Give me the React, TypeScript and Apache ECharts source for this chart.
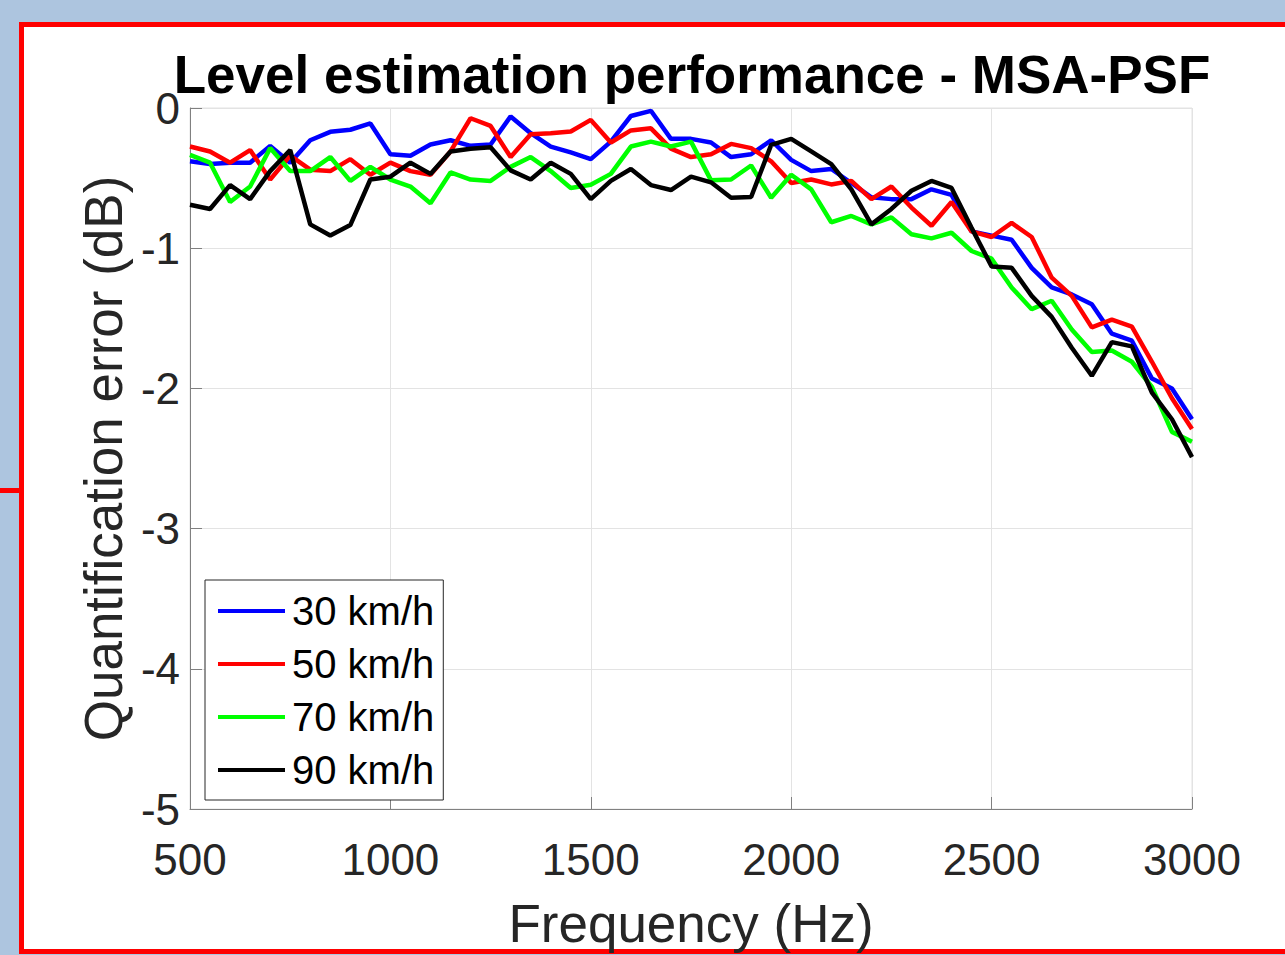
import React, { useEffect, useRef } from "react";
import * as echarts from "echarts";

const frequencies = [
  500, 550, 600, 650, 700, 750, 800, 850, 900, 950, 1000, 1050, 1100, 1150, 1200, 1250, 1300, 1350, 1400, 1450,
  1500, 1550, 1600, 1650, 1700, 1750, 1800, 1850, 1900, 1950, 2000, 2050, 2100, 2150, 2200, 2250, 2300, 2350,
  2400, 2450, 2500, 2550, 2600, 2650, 2700, 2750, 2800, 2850, 2900, 2950, 3000,
];

const speed30 = [
  -0.38, -0.4, -0.39, -0.39, -0.27, -0.39, -0.23, -0.17, -0.155, -0.11, -0.33, -0.34, -0.26, -0.23, -0.27, -0.26,
  -0.06, -0.18, -0.275, -0.317, -0.365, -0.24, -0.057, -0.02, -0.22, -0.22, -0.246, -0.35, -0.33, -0.23, -0.37,
  -0.45, -0.435, -0.535, -0.637, -0.65, -0.65, -0.58, -0.62, -0.88, -0.91, -0.94, -1.14, -1.28, -1.33, -1.4, -1.61,
  -1.66, -1.93, -2.0, -2.22,
];

const speed50 = [
  -0.275, -0.31, -0.39, -0.3, -0.51, -0.34, -0.44, -0.45, -0.365, -0.476, -0.39, -0.45, -0.476, -0.31, -0.073,
  -0.128, -0.35, -0.187, -0.18, -0.168, -0.085, -0.246, -0.16, -0.145, -0.29, -0.35, -0.33, -0.256, -0.286, -0.38,
  -0.535, -0.51, -0.545, -0.52, -0.65, -0.56, -0.71, -0.84, -0.67, -0.88, -0.92, -0.82, -0.92, -1.21, -1.34,
  -1.565, -1.51, -1.56, -1.81, -2.07, -2.29,
];

const speed70 = [
  -0.334, -0.39, -0.67, -0.56, -0.286, -0.45, -0.45, -0.35, -0.52, -0.42, -0.51, -0.56, -0.68, -0.46, -0.51, -0.52,
  -0.42, -0.35, -0.45, -0.57, -0.547, -0.47, -0.275, -0.24, -0.275, -0.24, -0.516, -0.51, -0.41, -0.64, -0.476,
  -0.58, -0.815, -0.77, -0.83, -0.78, -0.9, -0.93, -0.89, -1.02, -1.075, -1.28, -1.435, -1.375, -1.58, -1.74, -1.73,
  -1.81, -1.99, -2.31, -2.38,
];

const speed90 = [
  -0.69, -0.72, -0.55, -0.65, -0.45, -0.3, -0.83, -0.91, -0.835, -0.51, -0.49, -0.39, -0.47, -0.31, -0.29, -0.28,
  -0.445, -0.51, -0.39, -0.47, -0.65, -0.52, -0.435, -0.55, -0.585, -0.49, -0.53, -0.64, -0.635, -0.263, -0.22,
  -0.31, -0.4, -0.58, -0.83, -0.72, -0.59, -0.52, -0.57, -0.855, -1.13, -1.14, -1.34, -1.49, -1.71, -1.91, -1.67,
  -1.7, -2.03, -2.22, -2.49,
];

const seriesNames = ["30 km/h", "50 km/h", "70 km/h", "90 km/h"];
const seriesColors = ["#0000ff", "#ff0000", "#00ff00", "#000000"];
const seriesValues = [speed30, speed50, speed70, speed90];

const titleText = "Level estimation performance - MSA-PSF";
const xAxisName = "Frequency (Hz)";
const yAxisName = "Quantification error (dB)";

const FONT = '"Liberation Sans", Arial, Helvetica, sans-serif';

export default function App() {
  const ref = useRef<HTMLDivElement>(null);

  useEffect(() => {
    if (!ref.current) return;
    const chart = echarts.init(ref.current, undefined, { renderer: "svg" });

    const series = seriesNames.map((name, i) => ({
      name,
      type: "line",
      data: frequencies.map((f, j) => [f, seriesValues[i][j]]),
      symbol: "none",
      showSymbol: false,
      lineStyle: { width: 4.5, color: seriesColors[i] },
      itemStyle: { color: seriesColors[i] },
      z: 3 + i,
    }));

    chart.setOption({
      animation: false,
      backgroundColor: "transparent",
      textStyle: { fontFamily: FONT },
      graphic: [
        {
          type: "rect",
          z: -10,
          shape: { x: 21.5, y: 24.5, width: 1300, height: 927 },
          style: { fill: "#ffffff", stroke: "#ff0000", lineWidth: 5 },
        },
        {
          type: "rect",
          z: -10,
          shape: { x: 0, y: 488, width: 21, height: 5 },
          style: { fill: "#ff0000" },
        },
        {
          type: "text",
          z: 10,
          x: 692,
          y: 74,
          style: {
            text: titleText,
            align: "center",
            verticalAlign: "middle",
            fill: "#000000",
            font: `bold 53px ${FONT}`,
          },
        },
      ],
      grid: {
        left: 190,
        top: 108,
        width: 1002,
        height: 704,
        show: true,
        borderColor: "#e3e3e3",
        borderWidth: 1,
        backgroundColor: "#ffffff",
      },
      legend: {
        orient: "vertical",
        left: 205,
        top: 580,
        data: seriesNames,
        icon: "rect",
        itemWidth: 67,
        itemHeight: 4,
        itemGap: 13,
        padding: [11, 9, 10, 13],
        backgroundColor: "#ffffff",
        borderColor: "#262626",
        borderWidth: 1,
        textStyle: { fontSize: 40, color: "#000000", fontFamily: FONT, padding: [0, 0, 0, 2] },
      },
      xAxis: {
        type: "value",
        min: 500,
        max: 3000,
        interval: 500,
        name: xAxisName,
        nameLocation: "middle",
        nameGap: 88,
        nameTextStyle: { fontSize: 53, color: "#262626", fontFamily: FONT },
        axisLine: { show: true, onZero: false, lineStyle: { color: "#808080", width: 1 } },
        axisTick: { show: true, inside: true, length: 12, lineStyle: { color: "#808080" } },
        axisLabel: {
          fontSize: 44,
          color: "#262626",
          margin: 28,
          fontFamily: FONT,
          formatter: (v: number) => String(v),
        },
        splitLine: { show: true, lineStyle: { color: "#e3e3e3", width: 1 } },
      },
      yAxis: {
        type: "value",
        min: -5,
        max: 0,
        interval: 1,
        name: yAxisName,
        nameLocation: "middle",
        nameGap: 60,
        nameTextStyle: { fontSize: 53, color: "#262626", fontFamily: FONT },
        axisLine: { show: true, onZero: false, lineStyle: { color: "#808080", width: 1 } },
        axisTick: { show: true, inside: true, length: 12, lineStyle: { color: "#808080" } },
        axisLabel: { fontSize: 44, color: "#262626", margin: 10, fontFamily: FONT },
        splitLine: { show: true, lineStyle: { color: "#e3e3e3", width: 1 } },
      },
      series,
    });

    return () => chart.dispose();
  }, []);

  return (
    <div
      ref={ref}
      style={{
        position: "fixed",
        left: 0,
        top: 0,
        width: 1285,
        height: 955,
        backgroundColor: "#adc5df",
      }}
    />
  );
}
